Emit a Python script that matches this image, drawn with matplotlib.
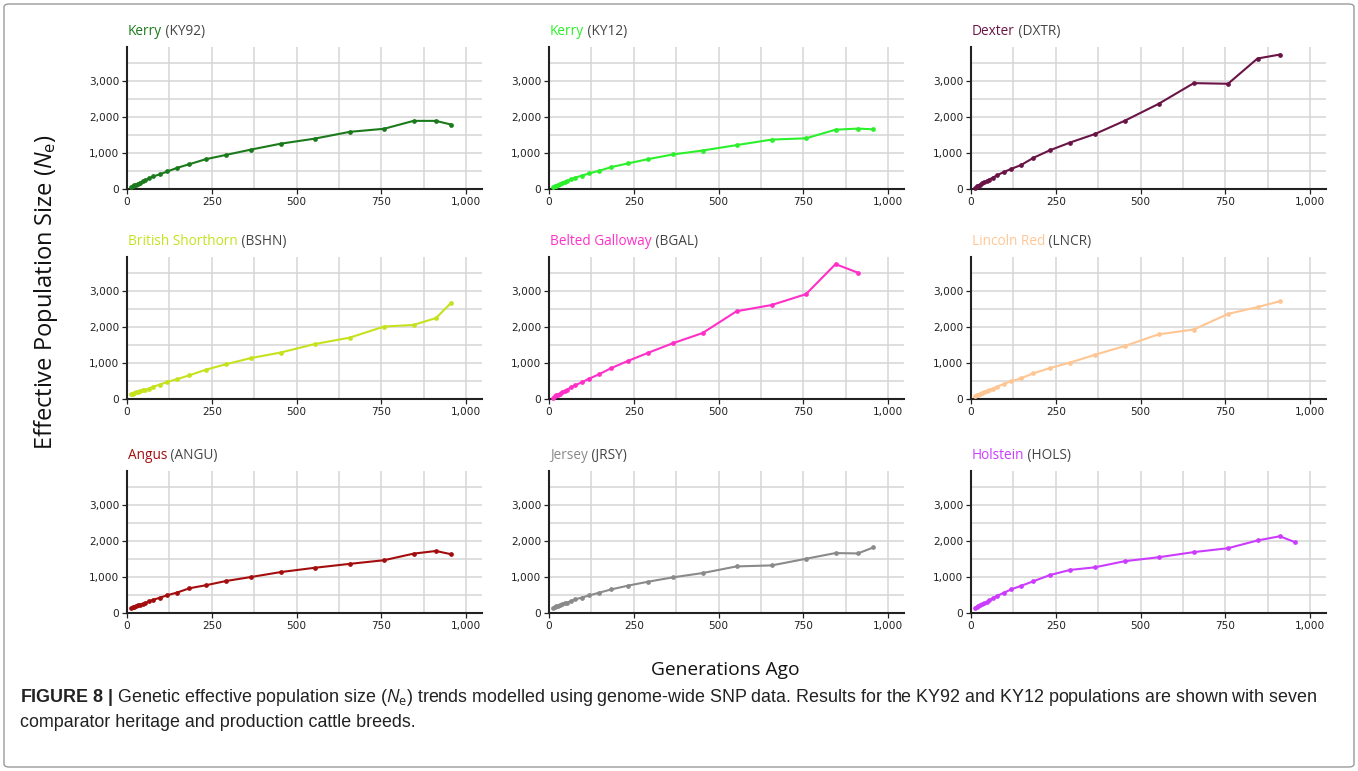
import matplotlib
matplotlib.use('Agg')
import matplotlib.pyplot as plt
from matplotlib.patches import FancyBboxPatch
from matplotlib.ticker import FuncFormatter, MultipleLocator

plt.rcParams['mathtext.fontset'] = 'custom'
plt.rcParams['mathtext.rm'] = 'Open Sans'
plt.rcParams['mathtext.it'] = 'Open Sans:italic'
plt.rcParams['mathtext.bf'] = 'Liberation Sans:bold'

# generations ago (shared by all populations)
GEN = [13, 17, 21, 26, 31, 38, 46, 54, 64, 77, 96, 119, 148, 184, 232,
       292, 365, 453, 553, 657, 758, 845, 911, 957]

# Ne estimates
KY92 = [60, 80, 100, 125, 150, 180, 212, 248, 294, 350, 405, 488, 589, 690,
        828, 948, 1095, 1260, 1400, 1590, 1675, 1895, 1895, 1790]
KY12 = [55, 75, 95, 120, 145, 170, 200, 230, 268, 314, 370, 434, 508, 610,
        710, 830, 960, 1070, 1220, 1375, 1410, 1650, 1680, 1660]
DXTR = [40, 70, 95, 125, 155, 185, 217, 262, 316, 380, 470, 560, 668, 867,
        1075, 1292, 1527, 1897, 2367, 2945, 2927, 3630, 3740]
BSHN = [130, 150, 165, 185, 205, 225, 240, 253, 289, 343, 397, 479, 551, 660,
        813, 967, 1138, 1292, 1527, 1707, 2015, 2060, 2250, 2683]
BGAL = [40, 70, 100, 125, 150, 185, 220, 257, 321, 385, 459, 569, 688, 862,
        1055, 1284, 1550, 1835, 2440, 2615, 2917, 3752, 3514]
LNCR = [80, 100, 120, 145, 170, 195, 225, 253, 289, 343, 416, 497, 578, 714,
        858, 1012, 1229, 1472, 1798, 1933, 2367, 2557, 2719]
ANGU = [140, 160, 180, 200, 220, 235, 248, 275, 321, 367, 422, 495, 569, 688,
        771, 890, 1000, 1138, 1257, 1367, 1468, 1651, 1725, 1633]
JRSY = [140, 165, 185, 205, 225, 250, 270, 287, 333, 380, 426, 491, 565, 657,
        759, 870, 991, 1111, 1296, 1324, 1509, 1667, 1657, 1824]
HOLS = [130, 160, 190, 215, 240, 265, 297, 351, 405, 477, 559, 658, 757, 883,
        1054, 1198, 1270, 1441, 1550, 1694, 1802, 2018, 2135, 1964]

BREEDS = ['Kerry', 'Kerry', 'Dexter', 'British Shorthorn', 'Belted Galloway',
          'Lincoln Red', 'Angus', 'Jersey', 'Holstein']
CODES = ['KY92', 'KY12', 'DXTR', 'BSHN', 'BGAL', 'LNCR', 'ANGU', 'JRSY', 'HOLS']
SERIES = [KY92, KY12, DXTR, BSHN, BGAL, LNCR, ANGU, JRSY, HOLS]
COLORS = ['#1b7a1b', '#2bf02b', '#6a1446', '#c6e21e', '#ff2fc8',
          '#ffc694', '#a30d0d', '#8a8a8a', '#cc3cff']

X_TICKS = [0, 250, 500, 750, 1000]
Y_TICKS = [0, 1000, 2000, 3000]

W, H = 1358, 771
fig = plt.figure(figsize=(W / 100, H / 100), dpi=100)
fig.patch.set_facecolor('white')

# outer frame
fig.patches.append(FancyBboxPatch((4 / W, 4 / H), 1 - 8 / W, 1 - 8 / H,
                                  boxstyle='round,pad=0,rounding_size=0.004',
                                  transform=fig.transFigure, fill=False,
                                  ec='#9a9a9a', lw=1.0))

col_left = [127, 549, 971]
row_top = [47, 257, 471]
aw, ah = 355, 142

comma = FuncFormatter(lambda v, p: f'{int(v):,}')

for i, (breed, code, ys, col) in enumerate(zip(BREEDS, CODES, SERIES, COLORS)):
    r, c = divmod(i, 3)
    ax = fig.add_axes([col_left[c] / W, 1 - (row_top[r] + ah) / H, aw / W, ah / H])
    ax.plot(GEN[:len(ys)], ys, color=col, lw=1.5, marker='o', ms=2.4,
            mec=col, mfc=col, clip_on=False, zorder=3)
    ax.set_xlim(0, 1047)
    ax.set_ylim(0, 3950)
    ax.set_xticks(X_TICKS)
    ax.set_yticks(Y_TICKS)
    ax.xaxis.set_minor_locator(MultipleLocator(125))
    ax.yaxis.set_minor_locator(MultipleLocator(500))
    ax.xaxis.set_major_formatter(comma)
    ax.yaxis.set_major_formatter(comma)
    ax.grid(True, which='both', color='#d6d6d6', lw=1.1)
    ax.set_axisbelow(True)
    for s in ['top', 'right']:
        ax.spines[s].set_visible(False)
    for s in ['left', 'bottom']:
        ax.spines[s].set_color('#222222')
        ax.spines[s].set_linewidth(1.5)
    ax.tick_params(which='major', length=3.5, width=0.9, color='#222222',
                   labelsize=7.6, labelcolor='#222222', pad=2)
    ax.tick_params(which='minor', length=0)
    t = ax.annotate(breed, xy=(0, 1), xycoords='axes fraction',
                    xytext=(1, 8), textcoords='offset pixels',
                    color=col, fontsize=9.8, family='Open Sans',
                    ha='left', va='bottom')
    ax.annotate(f' ({code})', xy=(1, 0), xycoords=t, color='#444444',
                fontsize=9.8, family='Open Sans', ha='left', va='bottom')

fig.text(46 / W, 1 - 292 / H, 'Effective Population Size ($\\mathit{N}_\\mathrm{e}$)',
         rotation=90, ha='center', va='center', fontsize=17,
         family='Open Sans', color='#111111')
fig.text(725 / W, 1 - 670 / H, 'Generations Ago', ha='center', va='center',
         fontsize=13.8, family='Open Sans', color='#111111')

# caption
cap_font = ['Liberation Sans Narrow', 'Liberation Sans']
fig.text(20 / W, 1 - 702 / H,
         '$\\mathbf{FIGURE\\ 8\\ |}$ Genetic effective population size '
         '($\\mathit{N}_\\mathrm{e}$) trends modelled using genome-wide SNP data. '
         'Results for the KY92 and KY12 populations are shown with seven',
         fontsize=12.9, family=cap_font, va='baseline', ha='left', color='#222222')
fig.text(20 / W, 1 - 727 / H, 'comparator heritage and production cattle breeds.',
         fontsize=12.9, family=cap_font, va='baseline', ha='left', color='#222222')

fig.savefig('out.png', dpi=100, facecolor='white')
